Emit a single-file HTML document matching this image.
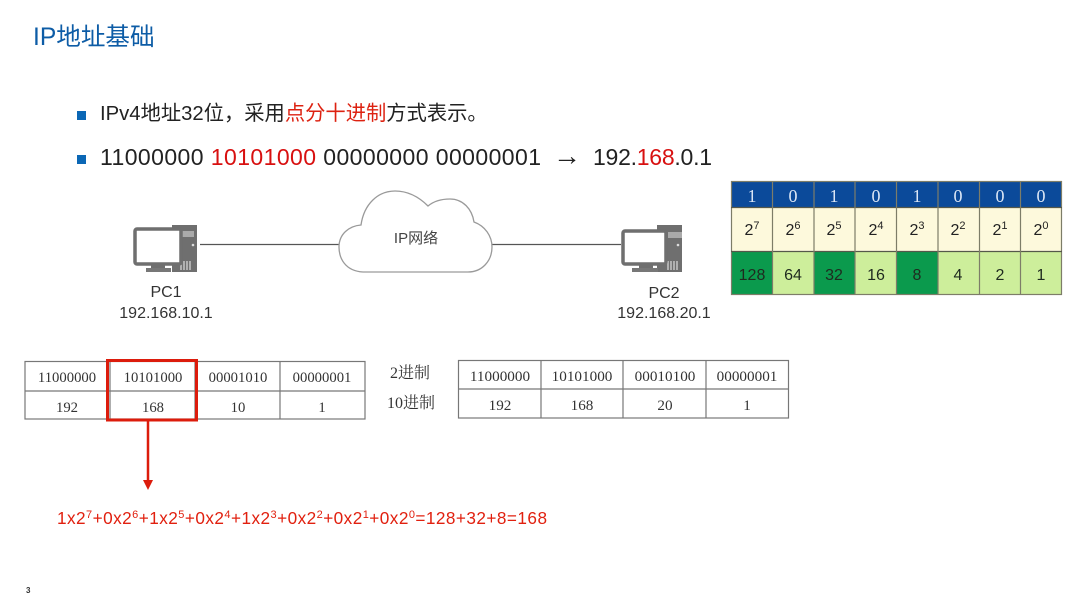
<!DOCTYPE html>
<html lang="zh">
<head>
<meta charset="utf-8">
<style>
html,body{margin:0;padding:0;background:#fff}
svg{display:block}
text{font-family:"Liberation Sans","Noto Sans CJK SC",sans-serif}
.serif{font-family:"Liberation Serif","Noto Serif CJK SC",serif;font-size:14.7px;fill:#333;text-anchor:middle}
.r{font-size:15.2px}
.b{font-size:21px;fill:#222}
.g{font-size:16px;fill:#222;text-anchor:middle}
.n{font-size:16px;fill:#1f2a1f;text-anchor:middle}
.s{font-size:11px}
.w{font-family:"Liberation Serif",serif;font-size:18px;fill:#dbe6f5;text-anchor:middle}
.l{font-size:16px;fill:#333;text-anchor:middle}
</style>
</head>
<body>
<svg width="1080" height="606" viewBox="0 0 1080 606" xmlns="http://www.w3.org/2000/svg">
<rect width="1080" height="606" fill="#fff"/>

<text x="33" y="45" font-size="24.6" fill="#0d5ca6">IP地址基础</text>

<rect x="77" y="111" width="9" height="9" fill="#0b67b5"/>
<text x="100" y="120" class="b" style="font-size:20.3px">IPv4地址32位，采用<tspan fill="#dd2211">点分十进制</tspan>方式表示。</text>

<rect x="77" y="155" width="9" height="9" fill="#0b67b5"/>
<text x="100" y="165" class="b" style="font-size:23px" textLength="441" lengthAdjust="spacing">11000000 <tspan fill="#d81010">10101000</tspan> 00000000 00000001</text>
<text x="553" y="165" class="b" style="font-size:28px">→</text>
<text x="593" y="165" class="b" style="font-size:23px" textLength="119" lengthAdjust="spacing">192.<tspan fill="#d81010">168</tspan>.0.1</text>

<!-- bit table -->
<rect x="731" y="181" width="331" height="26" fill="#0b4a9a"/>
<rect x="731" y="207" width="331" height="44" fill="#fdf9dc"/>
<rect x="731" y="251" width="331" height="44" fill="#cdee9b"/>
<rect x="731.5" y="251" width="41" height="44" fill="#0b9a4d"/>
<rect x="814" y="251" width="41" height="44" fill="#0b9a4d"/>
<rect x="897" y="251" width="41" height="44" fill="#0b9a4d"/>
<g stroke="#7d7d68" stroke-width="1.2" fill="none">
<rect x="731.5" y="181.5" width="330" height="113"/>
<path d="M731 207.5H1062M731 251.5H1062" stroke="#55584a"/>
<path d="M772.5 181V295M814 181V295M855 181V295M896.5 181V295M938 181V295M979.5 181V295M1020.5 181V295"/>
</g>
<g>
<text x="752" y="202" class="w">1</text><text x="793" y="202" class="w">0</text><text x="834" y="202" class="w">1</text><text x="876" y="202" class="w">0</text><text x="917" y="202" class="w">1</text><text x="958" y="202" class="w">0</text><text x="1000" y="202" class="w">0</text><text x="1041" y="202" class="w">0</text>
</g>
<g>
<text x="752" y="235" class="g">2<tspan class="s" dy="-6">7</tspan></text>
<text x="793" y="235" class="g">2<tspan class="s" dy="-6">6</tspan></text>
<text x="834" y="235" class="g">2<tspan class="s" dy="-6">5</tspan></text>
<text x="876" y="235" class="g">2<tspan class="s" dy="-6">4</tspan></text>
<text x="917" y="235" class="g">2<tspan class="s" dy="-6">3</tspan></text>
<text x="958" y="235" class="g">2<tspan class="s" dy="-6">2</tspan></text>
<text x="1000" y="235" class="g">2<tspan class="s" dy="-6">1</tspan></text>
<text x="1041" y="235" class="g">2<tspan class="s" dy="-6">0</tspan></text>
</g>
<g>
<text x="752" y="280" class="n">128</text><text x="793" y="280" class="n">64</text><text x="834" y="280" class="n">32</text><text x="876" y="280" class="n">16</text><text x="917" y="280" class="n">8</text><text x="958" y="280" class="n">4</text><text x="1000" y="280" class="n">2</text><text x="1041" y="280" class="n">1</text>
</g>

<!-- network lines -->
<path d="M200 244.5H340M491 244.5H621" stroke="#555" stroke-width="1.2" fill="none"/>

<!-- cloud -->
<path d="M363 272C345 271 339 258 339 247C339 234 349 226 361 225C364 204 378 191 395 191C409 191 420 198 428 206C434 201 442 199 450 199C463 199 472 209 474 222C485 226 492 236 492 247C492 261 482 272 468 272Z" fill="#fff" stroke="#9a9a9a" stroke-width="1.3"/>
<text x="416" y="243" font-size="15" fill="#444" text-anchor="middle">IP网络</text>

<!-- PC1 -->
<g id="pc1">
<path d="M172 225H197V272H172Z" fill="#6f6f6f"/>
<rect x="177" y="231" width="17" height="6" fill="#aaa"/>
<circle cx="193" cy="245" r="1.3" fill="#ddd"/>
<path d="M181 261V270M184 261V270M187 261V270M190 261V270" stroke="#ddd" stroke-width="1.2"/>
<rect x="135" y="229" width="46" height="35" rx="2" fill="#fff" stroke="#6f6f6f" stroke-width="3.5"/>
<rect x="151" y="264" width="14" height="4" fill="#6f6f6f"/>
<rect x="146" y="268" width="25" height="4" fill="#777"/>
</g>
<!-- PC2 -->
<g>
<path d="M657 225H682V272H657Z" fill="#6f6f6f"/>
<rect x="668" y="232" width="14" height="6" fill="#aaa"/>
<circle cx="678" cy="245" r="1.3" fill="#ddd"/>
<path d="M668 261V270M671 261V270M674 261V270M677 261V270" stroke="#ddd" stroke-width="1.2"/>
<rect x="623" y="231" width="43" height="33" rx="2" fill="#fff" stroke="#6f6f6f" stroke-width="3.5"/>
<rect x="639" y="264" width="14" height="4" fill="#6f6f6f"/>
<rect x="632" y="268" width="26" height="4" fill="#777"/>
</g>

<text x="166" y="297" class="l">PC1</text>
<text x="166" y="318" class="l">192.168.10.1</text>
<text x="664" y="298" class="l">PC2</text>
<text x="664" y="318" class="l">192.168.20.1</text>

<!-- left table -->
<g stroke="#777" stroke-width="1.2" fill="none">
<rect x="25" y="361.5" width="340" height="57.5"/>
<path d="M25 391H365M110 361V419M195 361V419M280 361V419"/>
</g>
<text x="67" y="382" class="serif">11000000</text><text x="153" y="382" class="serif">10101000</text><text x="238" y="382" class="serif">00001010</text><text x="322" y="382" class="serif">00000001</text>
<text x="67" y="412" class="serif">192</text><text x="153" y="412" class="serif">168</text><text x="238" y="412" class="serif">10</text><text x="322" y="412" class="serif">1</text>

<text x="410" y="378" class="serif" style="font-size:16px">2进制</text>
<text x="411" y="408" class="serif" style="font-size:16px">10进制</text>

<!-- right table -->
<g stroke="#777" stroke-width="1.2" fill="none">
<rect x="458.5" y="360.5" width="330" height="57.5"/>
<path d="M458 389H789M541 360V418M623 360V418M706 360V418"/>
</g>
<text x="500" y="381" class="serif r">11000000</text><text x="582" y="381" class="serif r">10101000</text><text x="665" y="381" class="serif r">00010100</text><text x="747" y="381" class="serif r">00000001</text>
<text x="500" y="410" class="serif r">192</text><text x="582" y="410" class="serif r">168</text><text x="665" y="410" class="serif r">20</text><text x="747" y="410" class="serif r">1</text>

<!-- red box and arrow -->
<rect x="107.5" y="360.5" width="89" height="59.5" fill="none" stroke="#dc1c0c" stroke-width="3"/>
<path d="M148 421V481" stroke="#dc1c0c" stroke-width="2.5" fill="none"/>
<path d="M143 480H153L148 490Z" fill="#dc1c0c"/>

<!-- formula -->
<text x="57" y="524" font-size="17.2" fill="#e1200f" textLength="490" lengthAdjust="spacing">1x2<tspan class="s" dy="-6">7</tspan><tspan dy="6">+0x2</tspan><tspan class="s" dy="-6">6</tspan><tspan dy="6">+1x2</tspan><tspan class="s" dy="-6">5</tspan><tspan dy="6">+0x2</tspan><tspan class="s" dy="-6">4</tspan><tspan dy="6">+1x2</tspan><tspan class="s" dy="-6">3</tspan><tspan dy="6">+0x2</tspan><tspan class="s" dy="-6">2</tspan><tspan dy="6">+0x2</tspan><tspan class="s" dy="-6">1</tspan><tspan dy="6">+0x2</tspan><tspan class="s" dy="-6">0</tspan><tspan dy="6">=128+32+8=168</tspan></text>

<text x="26" y="593" font-size="8" font-weight="bold" fill="#333">3</text>
</svg>
</body>
</html>
